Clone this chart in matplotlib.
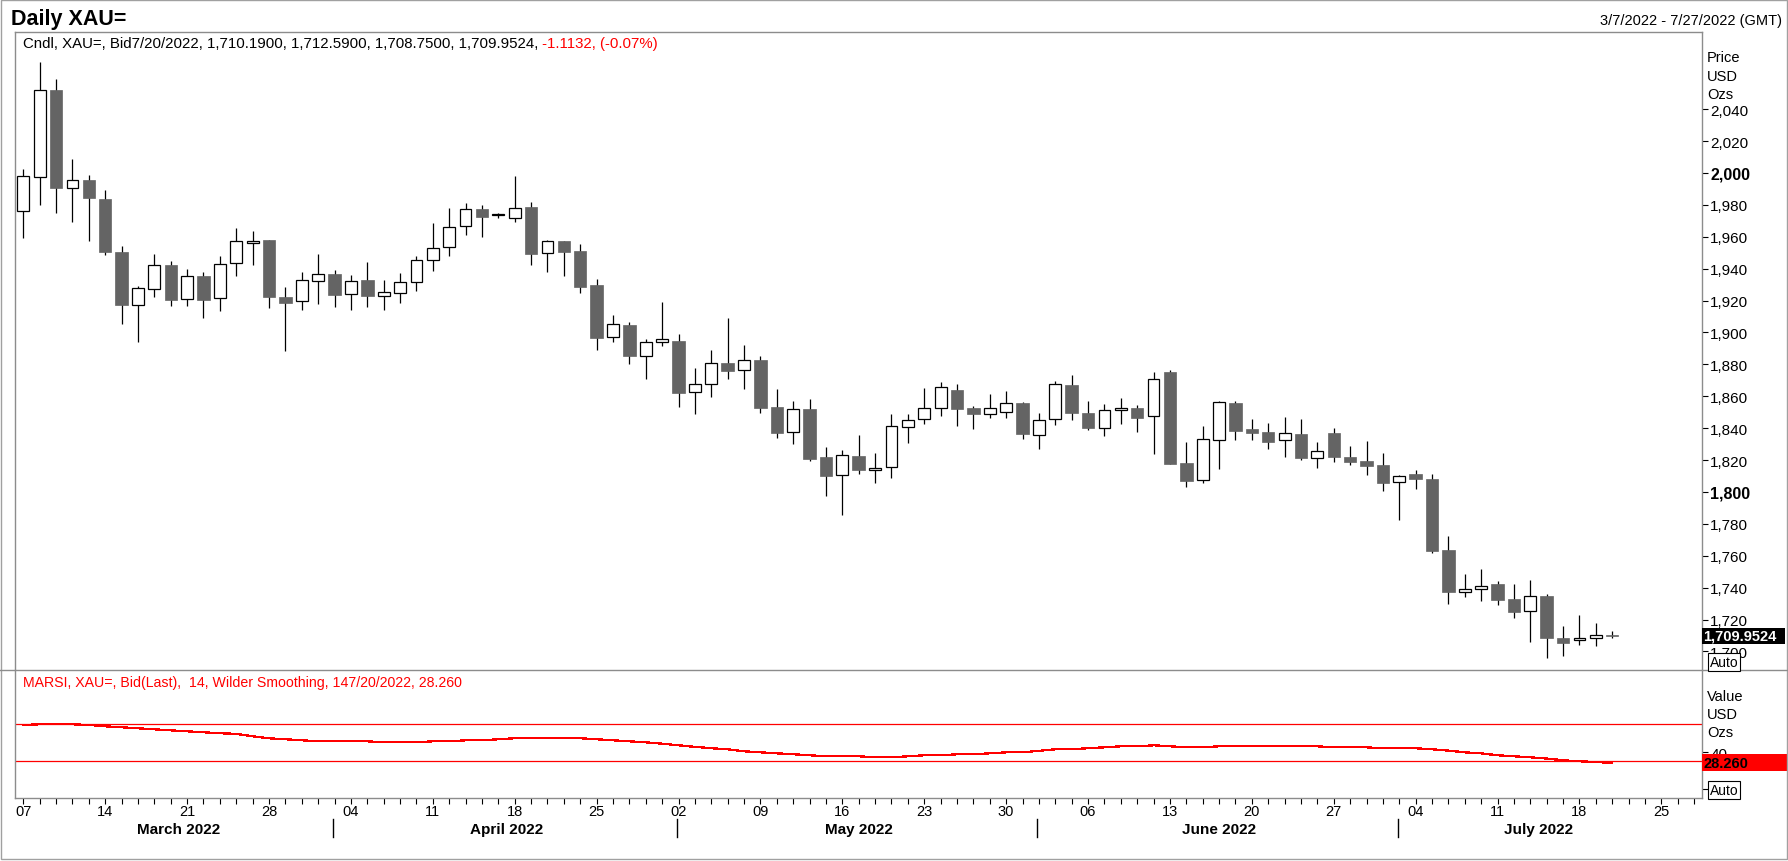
import matplotlib
matplotlib.use("Agg")
import matplotlib.pyplot as plt
import matplotlib.transforms as mtransforms
from matplotlib.patches import Rectangle
from matplotlib.lines import Line2D
import numpy as np
import pandas as pd

plt.rcParams['font.family'] = ['Liberation Sans', 'DejaVu Sans']

# ---------------- data ----------------
FIRST_DAY = "2022-03-07"
LAST_CANDLE_DAY = "2022-07-20"
AXIS_END_DAY = "2022-07-27"

opens = [1976.0, 1997.3, 2052.0, 1990.8, 1995.6, 1983.7, 1950.5, 1917.0, 1927.1, 1942.1,
         1920.8, 1935.2, 1921.4, 1943.4, 1956.4, 1958.0, 1922.2, 1919.5, 1932.1, 1936.5,
         1923.9, 1932.9, 1922.7, 1924.5, 1931.4, 1945.2, 1953.4, 1966.6, 1977.4, 1973.7,
         1971.6, 1978.5, 1949.6, 1957.2, 1951.1, 1929.8, 1897.0, 1904.7, 1885.1, 1893.8,
         1894.7, 1862.5, 1867.5, 1880.9, 1876.3, 1882.8, 1853.3, 1837.4, 1852.0, 1821.9,
         1810.4, 1822.6, 1813.6, 1815.4, 1840.5, 1845.6, 1852.5, 1864.0, 1852.7, 1848.7,
         1849.9, 1855.8, 1835.5, 1845.6, 1867.1, 1849.5, 1839.9, 1851.4, 1852.7, 1847.4,
         1875.2, 1818.2, 1807.3, 1832.4, 1855.8, 1839.5, 1837.6, 1832.4, 1836.4, 1821.1,
         1837.0, 1821.9, 1819.4, 1816.9, 1806.0, 1811.3, 1808.1, 1763.6, 1737.1, 1739.0,
         1742.3, 1732.9, 1725.2, 1734.8, 1708.5, 1707.0, 1708.2, 1710.19]
highs = [2002.5, 2069.4, 2058.9, 2008.8, 1998.7, 1989.3, 1954.2, 1928.9, 1949.2, 1944.8,
         1939.8, 1937.7, 1947.7, 1965.5, 1963.6, 1958.3, 1928.5, 1937.9, 1949.2, 1939.2,
         1935.8, 1944.2, 1932.7, 1937.1, 1947.9, 1968.6, 1978.1, 1981.2, 1979.9, 1974.9,
         1998.0, 1981.6, 1958.0, 1957.4, 1955.3, 1933.5, 1911.0, 1906.4, 1895.9, 1919.1,
         1899.1, 1877.7, 1889.0, 1909.1, 1892.2, 1885.3, 1864.6, 1857.1, 1858.3, 1828.2,
         1826.3, 1835.7, 1824.4, 1848.9, 1848.9, 1865.2, 1869.0, 1867.7, 1853.9, 1861.4,
         1863.3, 1856.4, 1849.5, 1869.6, 1873.4, 1857.0, 1855.2, 1858.9, 1854.5, 1875.2,
         1876.5, 1831.3, 1841.3, 1857.0, 1857.0, 1845.8, 1843.3, 1847.0, 1845.8, 1831.3,
         1840.1, 1828.8, 1832.0, 1824.4, 1810.6, 1813.8, 1811.3, 1772.4, 1748.6, 1751.7,
         1744.2, 1742.3, 1744.8, 1735.8, 1716.0, 1722.9, 1717.9, 1712.59]
lows = [1959.2, 1980.1, 1975.1, 1969.5, 1957.6, 1948.8, 1905.3, 1894.2, 1922.5, 1916.8,
        1916.8, 1909.3, 1913.7, 1935.6, 1942.5, 1915.6, 1888.6, 1914.3, 1918.1, 1916.2,
        1914.3, 1916.2, 1914.3, 1918.7, 1926.2, 1938.8, 1948.2, 1961.3, 1960.1, 1972.0,
        1969.5, 1942.5, 1938.1, 1935.6, 1925.0, 1889.2, 1894.3, 1880.5, 1871.0, 1891.3,
        1853.5, 1849.1, 1859.8, 1871.0, 1864.8, 1849.7, 1834.1, 1830.3, 1819.6, 1797.7,
        1785.8, 1811.5, 1805.8, 1809.0, 1830.9, 1842.8, 1847.9, 1841.6, 1839.7, 1846.6,
        1846.6, 1833.4, 1827.2, 1842.2, 1845.3, 1839.1, 1835.3, 1842.8, 1837.8, 1824.0,
        1817.5, 1803.3, 1805.8, 1814.6, 1832.8, 1832.8, 1827.2, 1822.2, 1820.3, 1815.3,
        1819.0, 1817.1, 1810.9, 1800.8, 1782.6, 1802.1, 1762.0, 1730.0, 1734.4, 1731.9,
        1729.4, 1721.2, 1706.2, 1696.1, 1697.4, 1704.3, 1703.6, 1708.75]
closes = [1997.9, 2051.8, 1990.8, 1995.4, 1984.5, 1950.7, 1917.4, 1927.7, 1942.1, 1920.6,
          1935.2, 1920.6, 1942.7, 1957.1, 1957.4, 1922.5, 1918.7, 1932.7, 1936.5, 1923.7,
          1932.1, 1923.1, 1925.2, 1931.4, 1945.2, 1952.8, 1965.9, 1977.2, 1972.6, 1974.1,
          1977.8, 1949.4, 1957.2, 1950.7, 1928.7, 1896.8, 1905.1, 1885.5, 1893.8, 1895.7,
          1862.3, 1867.5, 1880.7, 1876.1, 1882.5, 1852.9, 1837.2, 1852.0, 1820.7, 1810.2,
          1823.0, 1814.0, 1815.0, 1841.2, 1844.9, 1852.5, 1865.6, 1852.2, 1849.1, 1852.5,
          1855.6, 1836.6, 1844.9, 1867.5, 1849.7, 1840.3, 1851.2, 1852.5, 1846.6, 1870.6,
          1817.8, 1807.1, 1833.0, 1856.2, 1838.5, 1837.2, 1831.5, 1836.8, 1821.5, 1825.5,
          1822.2, 1819.0, 1816.5, 1805.8, 1809.8, 1808.4, 1763.2, 1737.5, 1739.0, 1740.9,
          1732.5, 1724.9, 1734.8, 1708.7, 1705.5, 1708.2, 1710.1, 1709.9524]
rsi = [69.3, 70.0, 70.0, 70.0, 69.3, 67.8, 66.8, 65.7, 64.6, 63.5,
       62.4, 61.4, 60.3, 59.7, 57.0, 54.9, 53.8, 52.7, 51.6, 51.6,
       51.6, 51.6, 50.5, 50.5, 50.5, 51.6, 51.6, 52.7, 52.7, 53.8,
       54.9, 54.9, 54.9, 54.9, 54.9, 53.8, 52.7, 51.6, 50.5, 49.0,
       47.3, 45.6, 44.1, 43.0, 40.8, 39.7, 38.6, 37.6, 36.5, 35.4,
       35.4, 35.4, 34.3, 34.3, 35.4, 36.5, 36.5, 37.6, 37.6, 38.6,
       39.7, 39.7, 41.3, 43.0, 43.0, 44.1, 45.1, 46.2, 46.2, 47.3,
       46.2, 45.1, 45.1, 46.2, 46.2, 46.2, 46.2, 46.2, 46.2, 46.2,
       45.1, 45.1, 45.1, 44.1, 44.1, 44.1, 43.0, 41.5, 39.7, 38.6,
       36.5, 35.4, 34.3, 33.0, 31.1, 30.0, 29.2, 28.26]

price_ticks = [1700, 1720, 1740, 1760, 1780, 1800, 1820, 1840, 1860, 1880,
               1900, 1920, 1940, 1960, 1980, 2000, 2020, 2040]
bold_price_ticks = [1800, 2000]
rsi_ticks = [0, 40]
rsi_tick_labels = ["", "40"]
rsi_levels = [30, 70]

title_text = "Daily XAU="
range_text = "3/7/2022 - 7/27/2022 (GMT)"
price_header = "Cndl, XAU=, Bid7/20/2022, 1,710.1900, 1,712.5900, 1,708.7500, 1,709.9524,"
price_change = " -1.1132, (-0.07%)"
rsi_header = "MARSI, XAU=, Bid(Last),  14, Wilder Smoothing, 147/20/2022, 28.260"
last_price_label = "1,709.9524"
last_rsi_label = "28.260"

# ---------------- layout ----------------
W, H = 1788, 862
GRAY = '#8c8c8c'
DOWN = '#646464'
RED = '#ff0000'


def fx(px):
    return px / W


def fy(py):
    return 1 - py / H


L, R = 15, 1702
P_TOP, SEP, R_BOT = 33, 671, 799

fig = plt.figure(figsize=(W / 100, H / 100), dpi=100)
fig.patch.set_facecolor('white')

ax = fig.add_axes([fx(L), fy(SEP), (R - L) / W, (SEP - P_TOP) / H])
ax2 = fig.add_axes([fx(L), fy(R_BOT), (R - L) / W, (R_BOT - SEP) / H])

candle_dates = pd.bdate_range(FIRST_DAY, LAST_CANDLE_DAY)
axis_dates = pd.bdate_range(FIRST_DAY, AXIS_END_DAY)
x = np.arange(len(candle_dates))
o = np.array(opens)
h = np.array(highs)
lo = np.array(lows)
c = np.array(closes)
up = c >= o

XLIM = (-0.507, 102.48)
for a in (ax, ax2):
    a.set_xlim(*XLIM)
    a.set_facecolor('white')

ax.set_ylim(1688.4, 2088.4)
ax2.set_ylim(-9.7, 128.7)

# candles
ax.vlines(x, lo, h, color='black', lw=0.9, zorder=2)
ax.bar(x[up], (c - o)[up], bottom=o[up], width=0.72, facecolor='white',
       edgecolor='black', linewidth=0.9, zorder=3)
ax.bar(x[~up], (o - c)[~up], bottom=c[~up], width=0.76, facecolor=DOWN,
       edgecolor=DOWN, linewidth=0.5, zorder=3)

# rsi
for lv in rsi_levels:
    ax2.axhline(lv, color=RED, lw=0.9, zorder=2)
ax2.plot(x, rsi, color=RED, lw=0.9, antialiased=False, zorder=3)

# spines
for a in (ax, ax2):
    for s in a.spines.values():
        s.set_color(GRAY)
        s.set_linewidth(1.0)
ax.spines['bottom'].set_visible(False)
ax2.spines['top'].set_visible(False)
fig.add_artist(Line2D([0, 1], [fy(SEP), fy(SEP)], color=GRAY, lw=1.0,
                      transform=fig.transFigure))

# price y axis
ax.yaxis.tick_right()
ax.set_yticks(price_ticks)
ax.set_yticklabels([f"{v:,}" for v in price_ticks])
ax.tick_params(axis='y', direction='out', length=4, width=0.8, pad=2,
               labelsize=11, colors='black')
for t, v in zip(ax.get_yticklabels(), price_ticks):
    if v in bold_price_ticks:
        t.set_fontweight('bold')
        t.set_fontsize(11.5)
ax.tick_params(axis='x', bottom=False, labelbottom=False)

# rsi y axis
ax2.yaxis.tick_right()
ax2.set_yticks(rsi_ticks)
ax2.set_yticklabels(rsi_tick_labels)
ax2.tick_params(axis='y', direction='out', length=4, width=0.8, pad=2,
                labelsize=11, colors='black')

# x axis: a tick per trading day, labels on Mondays
ax2.set_xticks(np.arange(len(axis_dates)))
ax2.tick_params(axis='x', direction='out', length=4, width=0.8,
                labelbottom=False, colors='black')
xt = mtransforms.blended_transform_factory(ax2.transData, fig.transFigure)
for i, d in enumerate(axis_dates):
    if d.weekday() == 0:
        ax2.text(i, fy(816), d.strftime('%d'), transform=xt, ha='center',
                 va='baseline', fontsize=10.5, clip_on=False)

months = pd.Series(np.arange(len(axis_dates)), index=axis_dates)
last_label_idx = max(i for i, d in enumerate(axis_dates) if d.weekday() == 0)
for k, (per, grp) in enumerate(months.groupby(axis_dates.to_period('M'))):
    first, last = grp.iloc[0], min(grp.iloc[-1], last_label_idx)
    ax2.text((first + last + 1) / 2, fy(834), per.strftime('%B %Y'),
             transform=xt, ha='center', va='baseline', fontsize=11,
             fontweight='bold', clip_on=False)
    if k > 0:
        ax2.add_artist(Line2D([first - 0.1, first - 0.1], [fy(820), fy(838)],
                              transform=xt, color='black', lw=1.0,
                              clip_on=False))

# header texts
fig.text(fx(11), fy(25), title_text, fontsize=15.5, fontweight='bold',
         ha='left', va='baseline')
fig.text(fx(1782), fy(25), range_text, fontsize=10.5, ha='right', va='baseline')
t1 = fig.text(fx(23), fy(48), price_header, fontsize=10.8, ha='left',
              va='baseline', color='black')
fig.canvas.draw()
bb = t1.get_window_extent(fig.canvas.get_renderer())
fig.text(bb.x1 / W, fy(48), price_change, fontsize=10.8, ha='left',
         va='baseline', color=RED)
fig.text(fx(23), fy(687), rsi_header, fontsize=10.2, ha='left', va='baseline',
         color=RED)

# axis unit labels
for txt, yy in zip(["Price", "USD", "Ozs"], [58, 77, 95]):
    fig.text(fx(1707), fy(yy), txt, fontsize=10.5, ha='left', va='center')
for txt, yy in zip(["Value", "USD", "Ozs"], [697, 715, 733]):
    fig.text(fx(1707), fy(yy), txt, fontsize=10.5, ha='left', va='center')

# Auto boxes
for yy in (663, 791):
    fig.text(fx(1710), fy(yy), "Auto", fontsize=10, ha='left', va='center',
             bbox=dict(boxstyle='square,pad=0.12', fc='white', ec='black',
                       lw=0.8))

# last value tags
bt = mtransforms.blended_transform_factory(fig.transFigure, ax.transData)
hp = 16 / 1.595
fig.add_artist(Rectangle((fx(R), c[-1] - hp / 2), (1785 - R) / W, hp,
                         transform=bt, facecolor='black', edgecolor='none'))
fig.text(fx(R + 1), c[-1], last_price_label, transform=bt, color='white',
         fontsize=10.5, fontweight='bold', ha='left', va='center')

bt2 = mtransforms.blended_transform_factory(fig.transFigure, ax2.transData)
hr = 17 / 0.925
fig.add_artist(Rectangle((fx(R), rsi[-1] - hr / 2), (W - R) / W, hr,
                         transform=bt2, facecolor=RED, edgecolor='none'))
fig.text(fx(R + 1), rsi[-1], last_rsi_label, transform=bt2, color='black',
         fontsize=10.5, fontweight='bold', ha='left', va='center')

# outer border
fig.add_artist(Rectangle((0.5 / W, 2 / H), (W - 1.5) / W, (H - 2.5) / H,
                         transform=fig.transFigure, fill=False,
                         edgecolor='#a0a0a0', lw=1.0))

fig.savefig("out.png", dpi=100)
